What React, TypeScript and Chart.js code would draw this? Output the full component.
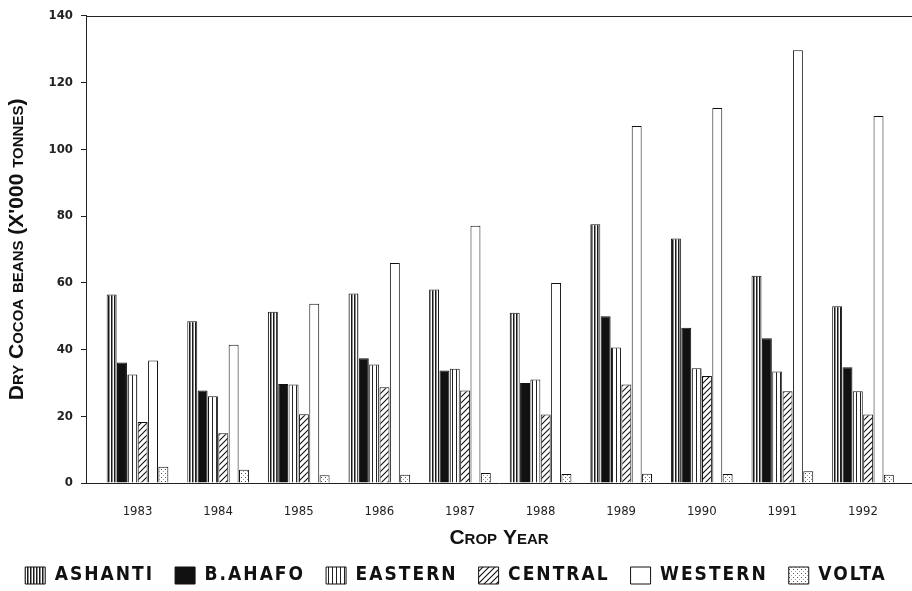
import React, { useEffect, useRef } from 'react';
import { Chart, registerables } from 'chart.js';

Chart.register(...registerables);

// ---- data ----
const years = [1983, 1984, 1985, 1986, 1987, 1988, 1989, 1990, 1991, 1992];
const ashanti = [56.5, 48.5, 51.3, 56.8, 58, 51, 77.5, 73.3, 62.1, 53];
const bAhafo = [36.1, 27.7, 29.7, 37.4, 33.7, 30, 50, 46.5, 43.4, 34.7];
const eastern = [32.5, 26, 29.5, 35.5, 34.2, 31, 40.6, 34.4, 33.4, 27.5];
const central = [18.3, 14.9, 20.6, 28.7, 27.7, 20.5, 29.5, 32.1, 27.5, 20.5];
const western = [36.7, 41.4, 53.7, 65.9, 77.1, 59.9, 107, 112.4, 129.7, 110];
const volta = [4.9, 4.0, 2.3, 2.5, 3, 2.7, 2.8, 2.7, 3.5, 2.5];
const seriesNames = ['ASHANTI', 'B.AHAFO', 'EASTERN', 'CENTRAL', 'WESTERN', 'VOLTA'];
const yTickValues = [0, 20, 40, 60, 80, 100, 120, 140];
const yTitle = "Dry Cocoa beans (X'000 tonnes)";
const xTitle = 'Crop Year';

function makePattern(kind: string): CanvasPattern | string {
  const c = document.createElement('canvas');
  if (kind === 'ashanti') {
    c.width = 3; c.height = 3;
    const g = c.getContext('2d')!;
    g.fillStyle = '#fff'; g.fillRect(0, 0, 3, 3);
    g.fillStyle = '#1a1a1a'; g.fillRect(0, 0, 1, 3);
    g.fillStyle = '#8a8a8a'; g.fillRect(1, 0, 1, 3);
    return g.createPattern(c, 'repeat')!;
  }
  if (kind === 'eastern') {
    c.width = 4; c.height = 4;
    const g = c.getContext('2d')!;
    g.fillStyle = '#fff'; g.fillRect(0, 0, 4, 4);
    g.fillStyle = '#222'; g.fillRect(0, 0, 1, 4);
    return g.createPattern(c, 'repeat')!;
  }
  if (kind === 'central') {
    c.width = 6; c.height = 6;
    const g = c.getContext('2d')!;
    g.fillStyle = '#fff'; g.fillRect(0, 0, 6, 6);
    g.strokeStyle = '#111'; g.lineWidth = 1.1;
    g.beginPath();
    g.moveTo(0, 6); g.lineTo(6, 0);
    g.moveTo(-1, 1); g.lineTo(1, -1);
    g.moveTo(5, 7); g.lineTo(7, 5);
    g.stroke();
    return g.createPattern(c, 'repeat')!;
  }
  if (kind === 'volta') {
    c.width = 4; c.height = 4;
    const g = c.getContext('2d')!;
    g.fillStyle = '#fff'; g.fillRect(0, 0, 4, 4);
    g.fillStyle = '#555'; g.fillRect(1, 1, 1, 1);
    g.fillStyle = '#999'; g.fillRect(3, 3, 1, 1);
    return g.createPattern(c, 'repeat')!;
  }
  return kind;
}

// top frame line of the plot area
const framePlugin = {
  id: 'frameTop',
  afterDraw(chart: any) {
    const { ctx, chartArea } = chart;
    ctx.save();
    ctx.strokeStyle = '#222';
    ctx.lineWidth = 1;
    ctx.beginPath();
    ctx.moveTo(chartArea.left, Math.round(chartArea.top) + 0.5);
    ctx.lineTo(chartArea.right, Math.round(chartArea.top) + 0.5);
    ctx.stroke();
    ctx.restore();
  },
};

// letter-spaced legend text (scale layers are drawn later, at z = 1, without spacing)
const spacingPlugin = {
  id: 'legendSpacing',
  beforeLayout(chart: any) {
    chart.ctx.letterSpacing = '2px';
  },
  afterLayout(chart: any) {
    chart.ctx.letterSpacing = '0px';
  },
  beforeDraw(chart: any) {
    chart.ctx.letterSpacing = '2px';
  },
  beforeDatasetsDraw(chart: any) {
    chart.ctx.letterSpacing = '0px';
  },
};

export default function App() {
  const ref = useRef<HTMLCanvasElement | null>(null);

  useEffect(() => {
    document.body.style.margin = '0';
    const canvas = ref.current;
    if (!canvas) return;
    const fills = [
      makePattern('ashanti'),
      '#111111',
      makePattern('eastern'),
      makePattern('central'),
      '#ffffff',
      makePattern('volta'),
    ];
    const values = [ashanti, bAhafo, eastern, central, western, volta];
    const tickFont = "'DejaVu Sans Condensed', 'DejaVu Sans', sans-serif";
    const titleFont = "'Liberation Sans', Arial, sans-serif";

    const chart = new Chart(canvas, {
      type: 'bar',
      data: {
        labels: years,
        datasets: seriesNames.map((name, i) => ({
          label: name,
          data: values[i],
          backgroundColor: fills[i] as any,
          borderColor: '#111',
          borderWidth: 1,
          categoryPercentage: 0.77,
          barPercentage: 0.96,
        })),
      },
      options: {
        animation: false,
        responsive: false,
        maintainAspectRatio: false,
        layout: { padding: { top: 12, left: 0, right: 0, bottom: -4 } },
        plugins: {
          legend: {
            position: 'bottom',
            labels: {
              boxWidth: 20,
              boxHeight: 17,
              padding: 21,
              color: '#111',
              font: { family: tickFont, size: 19, weight: 'bold' },
            },
          },
          tooltip: { enabled: false },
        },
        scales: {
          x: {
            type: 'linear',
            min: 1982.361,
            max: 1992.608,
            offset: false,
            afterBuildTicks: (s: any) => {
              s.ticks = years.map((v) => ({ value: v }));
            },
            afterFit: (s: any) => {
              s.height = 62;
            },
            grid: { display: false, offset: false, z: 1 },
            border: { display: true, color: '#222', width: 1, z: 1 },
            ticks: {
              z: 1,
              padding: 13,
              color: '#222',
              autoSkip: false,
              maxRotation: 0,
              font: { family: tickFont, size: 13 },
              callback: (v: any) => String(v),
            },
            title: {
              display: true,
              text: xTitle,
              color: '#111',
              font: { family: titleFont, size: 21, weight: 'small-caps bold' as any },
              padding: { top: 0, bottom: -6 },
            },
          },
          y: {
            min: 0,
            max: 140,
            afterBuildTicks: (s: any) => {
              s.ticks = yTickValues.map((v) => ({ value: v }));
            },
            afterFit: (s: any) => {
              s.width = 86;
            },
            grid: { drawOnChartArea: false, drawTicks: true, tickLength: 5, color: '#222', z: 1 },
            border: { display: true, color: '#222', width: 1, z: 1 },
            ticks: {
              z: 1,
              padding: 8,
              color: '#222',
              font: { family: tickFont, size: 13, weight: 'bold' },
            },
            title: {
              display: true,
              text: yTitle,
              color: '#111',
              font: { family: titleFont, size: 21, weight: 'small-caps bold' as any },
              padding: { top: 5, bottom: 0 },
            },
          },
        },
      },
      plugins: [spacingPlugin, framePlugin],
    });
    return () => chart.destroy();
  }, []);

  return (
    <div style={{ width: 912, height: 591, background: '#fff' }}>
      <canvas ref={ref} width={912} height={591} style={{ width: 912, height: 591, display: 'block' }} />
    </div>
  );
}
